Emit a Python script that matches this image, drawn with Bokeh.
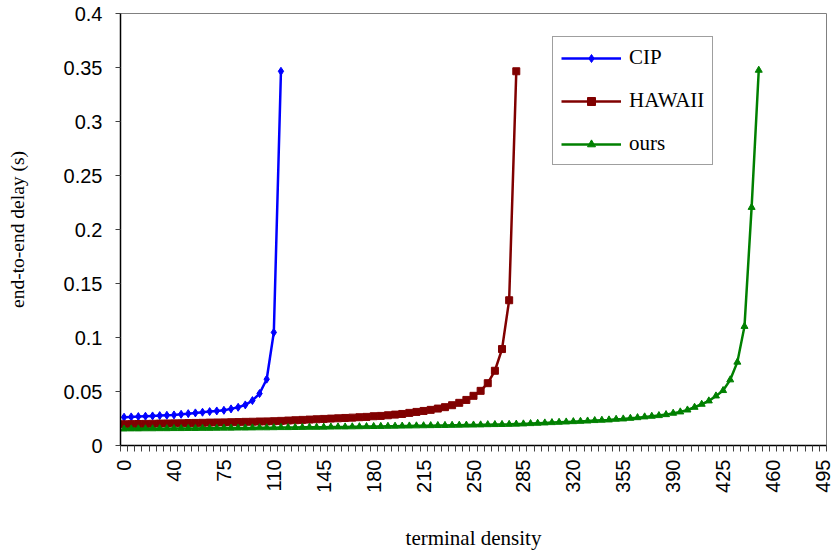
import math
import numpy as np
from bokeh.plotting import figure
from bokeh.models import FixedTicker, CustomJSTickFormatter, Range1d, Legend, LegendItem
from bokeh.embed import file_html
from bokeh.resources import INLINE

# x categories (terminal density), labelled every 7th category
x_tick_labels = ["0", "40", "75", "110", "145", "180", "215", "250", "285",
                 "320", "355", "390", "425", "460", "495"]
x_tick_pos = [0, 7, 14, 21, 28, 35, 42, 49, 56, 63, 70, 77, 84, 91, 98]
n_categories = 99

y_ticks = [0, 0.05, 0.1, 0.15, 0.2, 0.25, 0.3, 0.35, 0.4]

cip = [0.0262, 0.0265, 0.0268, 0.0271, 0.0274, 0.0277, 0.0280, 0.0283, 0.0289, 0.0295,
       0.0302, 0.0308, 0.0314, 0.0320, 0.0326, 0.0339, 0.0354, 0.0376, 0.0416, 0.0481,
       0.0614, 0.1047, 0.3465]

hawaii = [0.0197, 0.0198, 0.0199, 0.0200, 0.0201, 0.0203, 0.0204, 0.0205, 0.0206, 0.0208,
          0.0209, 0.0210, 0.0212, 0.0213, 0.0214, 0.0216, 0.0217, 0.0219, 0.0220, 0.0222,
          0.0223, 0.0225, 0.0228, 0.0231, 0.0234, 0.0237, 0.0240, 0.0243, 0.0246, 0.0249,
          0.0252, 0.0255, 0.0258, 0.0262, 0.0265, 0.0271, 0.0274, 0.0280, 0.0286, 0.0292,
          0.0302, 0.0311, 0.0320, 0.0330, 0.0342, 0.0355, 0.0373, 0.0395, 0.0422, 0.0460,
          0.0506, 0.0577, 0.0692, 0.0893, 0.1345, 0.3465]

ours = [0.0153, 0.0154, 0.0154, 0.0155, 0.0155, 0.0156, 0.0156, 0.0157, 0.0157, 0.0158,
        0.0158, 0.0159, 0.0159, 0.0160, 0.0161, 0.0161, 0.0162, 0.0162, 0.0163, 0.0164,
        0.0164, 0.0165, 0.0166, 0.0166, 0.0167, 0.0168, 0.0169, 0.0169, 0.0170, 0.0171,
        0.0172, 0.0172, 0.0173, 0.0174, 0.0175, 0.0176, 0.0177, 0.0178, 0.0179, 0.0180,
        0.0181, 0.0182, 0.0183, 0.0184, 0.0185, 0.0186, 0.0187, 0.0188, 0.0189, 0.0190,
        0.0191, 0.0193, 0.0194, 0.0195, 0.0196, 0.0198, 0.0200, 0.0203, 0.0206, 0.0209,
        0.0212, 0.0215, 0.0218, 0.0221, 0.0224, 0.0227, 0.0231, 0.0234, 0.0237, 0.0243,
        0.0246, 0.0252, 0.0258, 0.0265, 0.0271, 0.0277, 0.0286, 0.0299, 0.0311, 0.0329,
        0.0354, 0.0382, 0.0413, 0.0459, 0.0509, 0.0608, 0.0772, 0.1103, 0.2205, 0.3475]

p = figure(width=838, height=553, output_backend="svg", toolbar_location=None,
           x_range=Range1d(-0.5, n_categories - 0.5), y_range=Range1d(0, 0.4),
           min_border_left=120, min_border_right=12, min_border_top=13, min_border_bottom=108)

p.xgrid.visible = False
p.ygrid.visible = False
p.outline_line_color = "#808080"
p.outline_line_width = 1
p.background_fill_color = "white"
p.border_fill_color = "white"

series = [
    ("CIP", cip, "#0000FF", "diamond", 8),
    ("HAWAII", hawaii, "#800000", "square", 7),
    ("ours", ours, "#008000", "triangle", 7),
]

items = []
for name, vals, color, marker, size in series:
    xs = list(range(len(vals)))
    l = p.line(xs, vals, line_color=color, line_width=2.5)
    s = p.scatter(xs, vals, marker=marker, size=size, fill_color=color, line_color=color)
    items.append(LegendItem(label=name, renderers=[l, s]))

legend = Legend(items=items, location=(432, 280))
legend.label_text_font = "Liberation Serif"
legend.label_text_font_size = "21px"
legend.label_text_color = "black"
legend.glyph_width = 60
legend.glyph_height = 20
legend.label_height = 20
legend.label_standoff = 8
legend.spacing = 18
legend.padding = 8
legend.margin = 0
legend.border_line_color = "#404040"
legend.border_line_width = 1.2
legend.background_fill_color = "white"
legend.background_fill_alpha = 1
p.add_layout(legend, "center")

# x axis
xa = p.xaxis[0]
xa.ticker = FixedTicker(ticks=x_tick_pos,
                        minor_ticks=list(np.arange(-0.5, n_categories, 1.0)))
xa.formatter = CustomJSTickFormatter(args=dict(pos=x_tick_pos, labels=x_tick_labels),
                                     code="const i = pos.indexOf(Math.round(tick)); return i >= 0 ? labels[i] : '';")
xa.major_label_orientation = math.pi / 2
xa.major_tick_out = 0
xa.major_tick_in = 0
xa.minor_tick_out = 6
xa.minor_tick_in = 0
xa.minor_tick_line_color = "#404040"
xa.axis_line_color = "black"
xa.axis_line_width = 1.5
xa.major_label_text_font = "Liberation Sans"
xa.major_label_text_font_size = "20px"
xa.major_label_text_color = "black"
xa.major_label_standoff = 8
xa.axis_label = "terminal density"
xa.axis_label_text_font = "Liberation Serif"
xa.axis_label_text_font_size = "21px"
xa.axis_label_text_font_style = "normal"
xa.axis_label_text_color = "black"
xa.axis_label_standoff = 30

# y axis
ya = p.yaxis[0]
ya.ticker = FixedTicker(ticks=y_ticks, minor_ticks=[])
ya.formatter = CustomJSTickFormatter(code="return tick.toFixed(2).replace(/0+$/, '').replace(/\\.$/, '');")
ya.major_tick_out = 5
ya.major_tick_in = 0
ya.major_tick_line_color = "#404040"
ya.minor_tick_line_color = None
ya.axis_line_color = "black"
ya.axis_line_width = 1.5
ya.major_label_text_font = "Liberation Sans"
ya.major_label_text_font_size = "20px"
ya.major_label_text_color = "black"
ya.major_label_standoff = 13
ya.axis_label = "end-to-end delay (s)"
ya.axis_label_text_font = "Liberation Serif"
ya.axis_label_text_font_size = "19.5px"
ya.axis_label_text_font_style = "normal"
ya.axis_label_text_color = "black"
ya.axis_label_standoff = 33

open("out.html", "w").write(file_html(p, INLINE))
